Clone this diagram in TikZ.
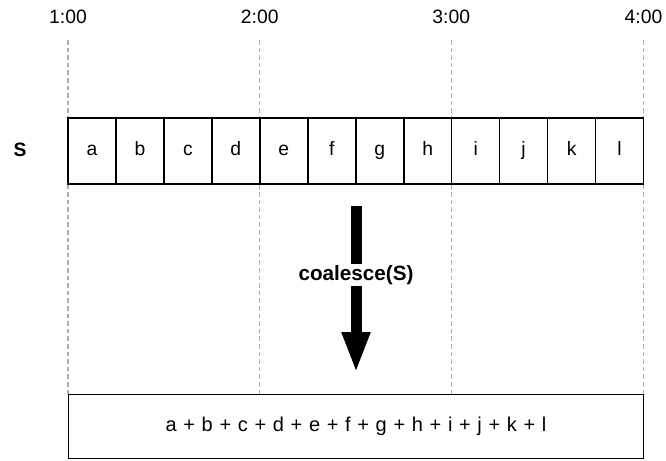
\documentclass[tikz,border=0pt]{standalone}
\usepackage{fontspec}
\setmainfont{Liberation Sans}
\usepackage{tikz}
\usetikzlibrary{arrows.meta, positioning}

\newcommand{\widesp}{\spaceskip=5pt\relax}

\begin{document}
\begin{tikzpicture}[
  x=0.75pt, y=-0.75pt,
  cell/.style={rectangle, draw=black, line width=1.1pt, minimum width=35.9pt,
               minimum height=49.5pt, inner sep=0pt, text height=9pt, text depth=2pt,
               font=\fontsize{14.5}{16}\selectfont},
  total/.style={rectangle, draw=black, line width=1.1pt, minimum width=431.25pt,
                minimum height=48pt, inner sep=0pt, text height=9pt, text depth=2pt,
                font=\fontsize{15}{18}\selectfont},
  tick/.style={font=\fontsize{14.5}{17}\selectfont},
  guide/.style={gray!65, line width=1.1pt, dash pattern=on 3.5pt off 2.2pt},
  big/.style={-{Triangle[length=30.75pt, width=19.5pt]}, line width=8.25pt},
  op/.style={fill=white, inner sep=1pt, font=\fontsize{15.5}{18}\selectfont\bfseries}
]
  \useasboundingbox (0,0) rectangle (666,460);

  % time marks and guide lines
  \foreach \t/\x in {1/68, 2/259.7, 3/451.3, 4/643.5}{
    \node[tick] (t\t) at (\x,17) {\t:00};
    \draw[guide] (\x,40) -- (\x,395);
  }

  % stream S
  \node[font=\fontsize{14.5}{17}\selectfont\bfseries] (s) at (20,150) {S};
  \foreach \l [count=\i] in {a,b,c,d,e,f,g,h,i,j,k,l}
    \node[cell] (c\i) at ({68+47.96*(\i-0.5)},151) {\l};

  % result
  \node[total] (sum) at (356,426.7) {\widesp a + b + c + d + e + f + g + h + i + j + k + l};

  % coalesce arrow
  \coordinate (top) at (356,206);
  \coordinate (bot) at (356,373);
  \draw[big] (top) -- (bot);
  \node[op] (co) at (356,275) {coalesce(S)};
\end{tikzpicture}
\end{document}
